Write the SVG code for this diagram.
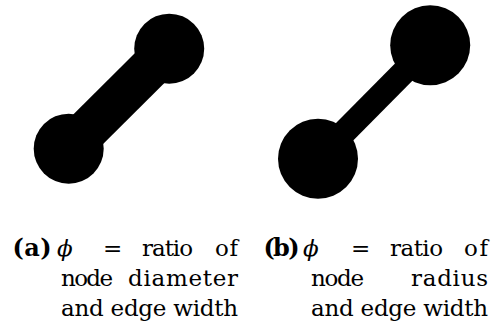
<svg xmlns="http://www.w3.org/2000/svg" width="492" height="324" viewBox="0 0 492 324">
<style>
.node{fill:#000}
.edge{stroke:#000;fill:none}
.cap{font-family:"DejaVu Serif","Liberation Serif",serif;font-size:23px;fill:#000}
.lbl{font-family:"DejaVu Serif","Liberation Serif",serif;font-size:24px;font-weight:bold;fill:#000}
.phi{font-style:italic}
</style>
<rect width="492" height="324" fill="#fff"/>
<g id="connectors">
<line class="edge" x1="68.7" y1="148.7" x2="169.2" y2="48.7" stroke-width="42"/>
<line class="edge" x1="318" y1="158.7" x2="430.2" y2="45.3" stroke-width="24.5"/>
</g>
<g id="node-a1"><circle class="node" cx="169.2" cy="48.7" r="35"/></g>
<g id="node-a2"><circle class="node" cx="68.7" cy="148.7" r="35"/></g>
<g id="node-b1"><circle class="node" cx="430.2" cy="45.3" r="40"/></g>
<g id="node-b2"><circle class="node" cx="318" cy="158.7" r="40"/></g>
<g id="caption-a">
<text class="lbl" x="12.5" y="256" textLength="39">(a)</text>
<text class="cap" y="256"><tspan class="phi" x="57">ϕ</tspan><tspan x="103" textLength="22">=</tspan><tspan x="142" textLength="51">ratio</tspan><tspan x="215" textLength="23">of</tspan></text>
<text class="cap" y="286"><tspan x="61" textLength="52">node</tspan><tspan x="128" textLength="110">diameter</tspan></text>
<text class="cap" x="61" y="316" textLength="177">and edge width</text>
</g>
<g id="caption-b">
<text class="lbl" x="263.5" y="256" textLength="36">(b)</text>
<text class="cap" y="256"><tspan class="phi" x="303">ϕ</tspan><tspan x="351" textLength="21">=</tspan><tspan x="390" textLength="53">ratio</tspan><tspan x="464" textLength="24">of</tspan></text>
<text class="cap" y="286"><tspan x="311" textLength="53">node</tspan><tspan x="411" textLength="77">radius</tspan></text>
<text class="cap" x="311" y="316" textLength="177">and edge width</text>
</g>
</svg>
